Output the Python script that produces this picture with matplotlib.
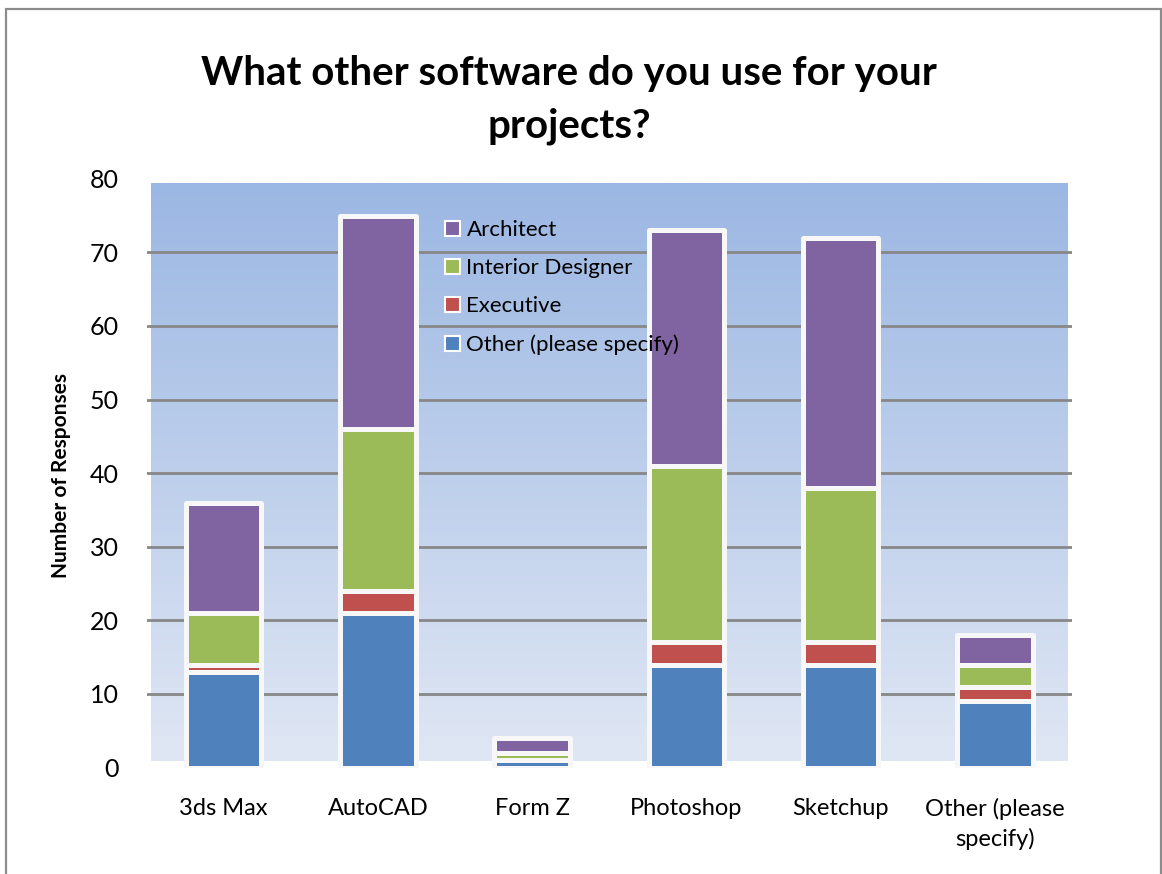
import matplotlib
matplotlib.use("Agg")
import matplotlib.pyplot as plt
import numpy as np
from matplotlib.patches import Rectangle, Patch

# survey counts
software = ["3ds Max", "AutoCAD", "Form Z", "Photoshop", "Sketchup", "Other (please\nspecify)"]
other_specify = [13, 21, 1, 14, 14, 9]
executive = [1, 3, 0, 3, 3, 2]
interior = [7, 22, 1, 24, 21, 3]
architect = [15, 29, 2, 32, 34, 4]
y_ticks = [0, 10, 20, 30, 40, 50, 60, 70, 80]

series = [
    ("Other (please specify)", other_specify, "#4f81bd"),
    ("Executive", executive, "#c0504d"),
    ("Interior Designer", interior, "#9bbb59"),
    ("Architect", architect, "#8064a2"),
]

plt.rcParams['font.family'] = ['Lato', 'DejaVu Sans']

W, H = 1162, 874
fig = plt.figure(figsize=(W / 100, H / 100), dpi=100)
fig.patch.set_facecolor('white')

# outer chart border
fig.add_artist(Rectangle((6 / W, -0.05), (1161 - 6) / W, 1.05 - 9 / H,
                         transform=fig.transFigure, fill=False,
                         edgecolor='#8c8c8c', linewidth=1.6))

ax = fig.add_axes([146.5 / W, 106.4 / H, (1072 - 146.5) / W, (767.6 - 178.7) / H])
ax.set_xlim(-0.5, len(software) - 0.5)
ax.set_ylim(0, 80)

# gradient plot area (slightly inset, like Excel draws it)
top_c = np.array([155, 183, 227]) / 255.0
bot_c = np.array([224, 231, 244]) / 255.0
t = np.linspace(0, 1, 256)[:, None]
grad = (top_c[None, :] * (1 - t) + bot_c[None, :] * t)[:, None, :]
ax.imshow(grad, extent=(-0.47, len(software) - 0.53, 0.9, 79.3),
          aspect='auto', zorder=0, interpolation='bilinear')

for yv in y_ticks[1:-1]:
    ax.axhline(yv, color='#878787', linewidth=2, zorder=1)

x = np.arange(len(software))
bottom = np.zeros(len(software))
for name, vals, col in series:
    vals = np.array(vals, dtype=float)
    ax.bar(x, vals, width=0.49, bottom=bottom, color=col, edgecolor='#f7f7f7',
           linewidth=3.6, joinstyle='round', zorder=3)
    bottom += vals

for s in ax.spines.values():
    s.set_visible(False)
ax.set_xticks(x)
ax.set_xticklabels(software, fontsize=17, color='black', linespacing=1.45)
ax.set_yticks(y_ticks)
ax.set_yticklabels([str(v) for v in y_ticks], fontsize=18)
ax.tick_params(axis='both', length=0)
ax.tick_params(axis='y', pad=20)
ax.tick_params(axis='x', pad=22)
for lab in ax.get_xticklabels():
    lab.set_verticalalignment('top')

fig.text(61 / W, 1 - 476 / H, "Number of Responses", rotation=90, fontsize=15,
         fontweight='bold', ha='center', va='center')

fig.text(569 / W, 1 - 73 / H, "What other software do you use for your",
         fontsize=29, fontweight='bold', ha='center', va='center')
fig.text(569 / W, 1 - 126 / H, "projects?",
         fontsize=29, fontweight='bold', ha='center', va='center')

handles = [Patch(facecolor=col, edgecolor='white', linewidth=1.5, label=name)
           for name, vals, col in reversed(series)]
ax.legend(handles=handles, loc='upper left', bbox_to_anchor=(290 / 925.5, 0.945),
          frameon=False, fontsize=16, handlelength=0.65, handleheight=0.65,
          handletextpad=0.3, labelspacing=0.82, borderaxespad=0)

fig.savefig("out.png", dpi=100)
